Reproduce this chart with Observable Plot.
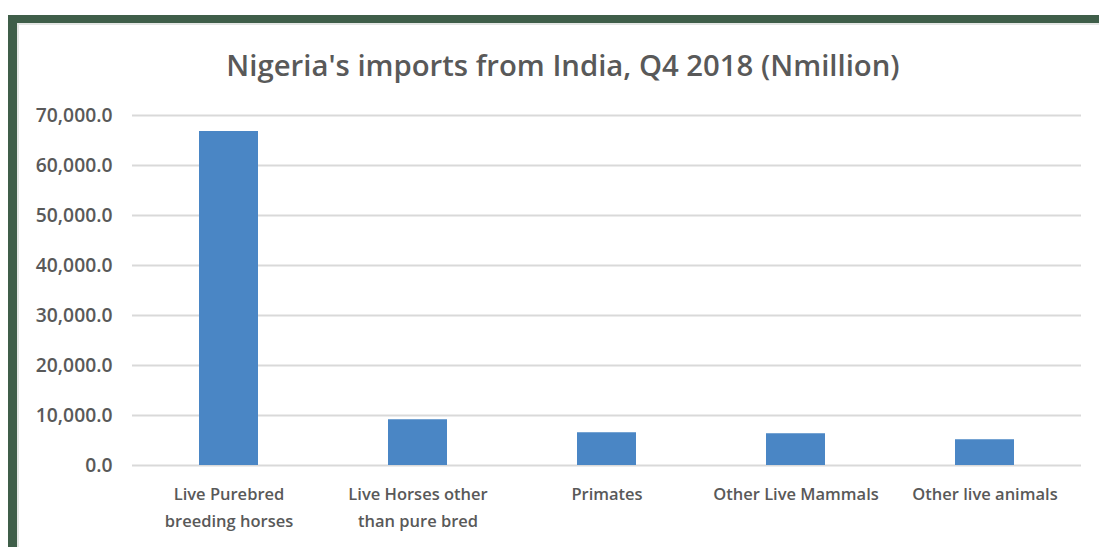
<!DOCTYPE html>
<html>
<head>
<meta charset="utf-8">
<script src="https://cdn.jsdelivr.net/npm/d3@7"></script>
<script src="https://cdn.jsdelivr.net/npm/@observablehq/plot@0.6"></script>
<style>
  html, body { margin: 0; padding: 0; background: #fff; width: 1099px; height: 547px; overflow: hidden; }
  #frame { position: absolute; left: 8px; top: 15px; width: 1091px; height: 532px;
           border-left: 9px solid #3f5e49; border-top: 8px solid #3f5e49; box-sizing: border-box; }
  #inner { position: absolute; left: 0; top: 0; right: 0; bottom: 0;
           border-left: 2px solid #e4e6e4; border-top: 2px solid #e4e6e4; }
  #title { position: absolute; left: 0; width: 1126px; top: 45px; text-align: center;
           font-family: "Open Sans", sans-serif; font-size: 29.3px; font-weight: 600; color: #595959; }
  #chart { position: absolute; left: 0; top: 95px; }
</style>
</head>
<body>
<div id="frame"><div id="inner"></div></div>
<div id="title">Nigeria's imports from India, Q4 2018 (Nmillion)</div>
<div id="chart"></div>
<script>
const categories = [
  "Live Purebred\nbreeding horses",
  "Live Horses other\nthan pure bred",
  "Primates",
  "Other Live Mammals",
  "Other live animals"
];
const values = [66800, 9150, 6550, 6350, 5150];
const yTicks = [0, 10000, 20000, 30000, 40000, 50000, 60000, 70000];

const data = categories.map((c, i) => ({category: c, value: values[i]}));

const chart = Plot.plot({
  width: 1099,
  height: 452,
  marginLeft: 132,
  marginRight: 18,
  marginTop: 20,
  marginBottom: 82,
  style: { fontFamily: "Open Sans, sans-serif", color: "#595959", background: "transparent" },
  x: { domain: categories, paddingInner: 0.69, paddingOuter: 0.345, label: null },
  y: { domain: [0, 70000], label: null },
  marks: [
    Plot.gridY(yTicks, { stroke: "#d9d9d9", strokeOpacity: 1, strokeWidth: 2 }),
    Plot.barY(data, { x: "category", y: "value", fill: "#4a86c5" }),
    Plot.axisY(yTicks, { tickSize: 0, tickPadding: 20, tickFormat: d3.format(",.1f"),
      fontSize: 19.3, fontWeight: 600, fill: "#595959", label: null }),
    Plot.axisX({ tickSize: 0, tickPadding: 16, fontSize: 16.5, fontWeight: 600, fill: "#595959",
      lineHeight: 1.6, textOverflow: null, label: null })
  ]
});
document.getElementById("chart").appendChild(chart);
</script>
</body>
</html>
